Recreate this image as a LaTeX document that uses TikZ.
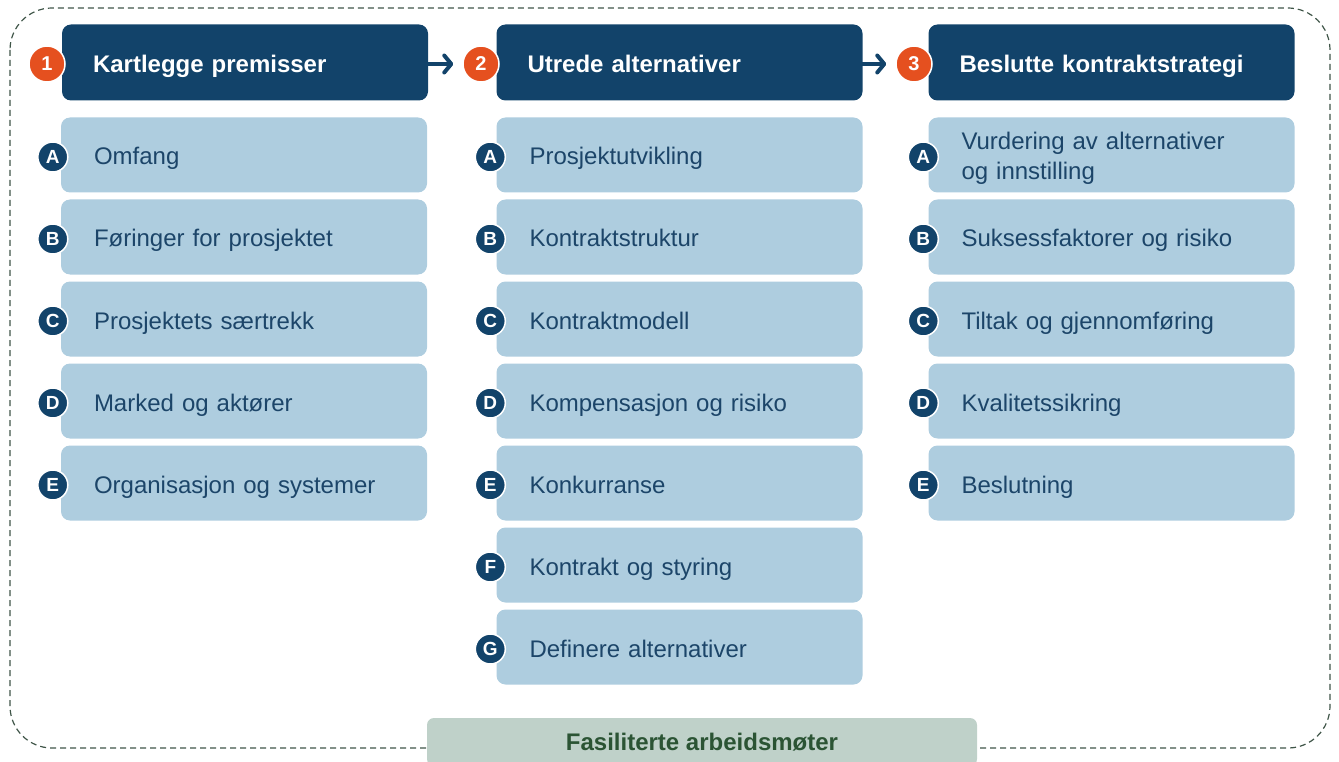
\documentclass[tikz,border=0pt]{standalone}
\usepackage{fontspec}
\setmainfont{Liberation Sans}
\usetikzlibrary{arrows.meta}

\definecolor{navy}{HTML}{12436A}
\definecolor{lightblue}{HTML}{AECDDF}
\definecolor{badgeorange}{HTML}{E5501F}
\definecolor{itemtext}{HTML}{1C4569}
\definecolor{framegreen}{HTML}{3F5548}
\definecolor{meetfill}{HTML}{BFD1C9}
\definecolor{meettext}{HTML}{2B5434}

\newcommand\topstrut{\rule{0pt}{25pt}}
\newcommand\botstrut{\rule[-5pt]{0pt}{5pt}}

\tikzset{
  phase/.style={fill=navy, rounded corners=9pt, minimum width=366pt,
    minimum height=76pt, text width=304pt, align=left, inner xsep=0pt,
    text=white, font=\fontsize{24}{29}\selectfont\bfseries,
    execute at begin node=\topstrut, execute at end node=\botstrut},
  item/.style={fill=lightblue, rounded corners=9pt, minimum width=366pt,
    minimum height=75pt, text width=300pt, align=left, inner xsep=0pt,
    text=itemtext, font=\fontsize{24}{30}\selectfont,
    execute at begin node=\topstrut, execute at end node=\botstrut},
  badge/.style={circle, fill=badgeorange, draw=white, line width=1.5pt,
    minimum size=36pt, inner sep=0pt, text=white,
    font=\fontsize{20}{20}\selectfont\bfseries},
  letter/.style={circle, fill=navy, draw=white, line width=1.5pt,
    minimum size=30pt, inner sep=0pt, text=white,
    font=\fontsize{19}{19}\selectfont\bfseries},
  flow/.style={navy, line width=4pt, line cap=round,
    -{Straight Barb[round, length=7pt, width=17pt]}, shorten >=9pt},
  meeting/.style={fill=meetfill, rounded corners=7pt, minimum width=550pt,
    minimum height=48pt, text=meettext,
    font=\fontsize{24}{29}\selectfont\bfseries}
}

\begin{document}
\begin{tikzpicture}[x=1pt, y=-1pt]
  \useasboundingbox (0,0) rectangle (1339,762);

  % frame round the whole process
  \draw[framegreen, line width=1.2pt, dash pattern=on 6pt off 4pt,
    rounded corners=42pt] (10,8) rectangle (1330,748);

  % phases
  \node[phase] (ph1) at (245,62.5) {Kartlegge premisser};
  \node[phase] (ph2) at (679.5,62.5) {Utrede alternativer};
  \node[phase] (ph3) at (1111.5,62.5) {Beslutte kontraktstrategi};
  \node[badge] (b1) at (47,64) {1};
  \node[badge] (b2) at (481,64) {2};
  \node[badge] (b3) at (914,64) {3};
  \draw[flow] (ph1.east |- b1) -- (b2.west);
  \draw[flow] (ph2.east |- b2) -- (b3.west);

  % items of phase 1
  \foreach \t [count=\i] in {Omfang, Føringer for prosjektet,
      Prosjektets særtrekk, Marked og aktører, Organisasjon og systemer} {
    \node[item] (a\i) at (244,{155+82*(\i-1)}) {\t};
  }
  % items of phase 2
  \foreach \t [count=\i] in {Prosjektutvikling, Kontraktstruktur,
      Kontraktmodell, Kompensasjon og risiko, Konkurranse,
      Kontrakt og styring, Definere alternativer} {
    \node[item] (c\i) at (679.5,{155+82*(\i-1)}) {\t};
  }
  % items of phase 3
  \foreach \t [count=\i] in {{Vurdering av alternativer\\og innstilling},
      Suksessfaktorer og risiko, Tiltak og gjennomføring,
      Kvalitetssikring, Beslutning} {
    \node[item] (e\i) at (1111.5,{155+82*(\i-1)}) {\t};
  }

  % letters
  \foreach \l [count=\i] in {A,B,C,D,E} {
    \node[letter] (la\i) at ([xshift=-8pt,yshift=-2pt]a\i.west) {\l};
    \node[letter] (le\i) at ([xshift=-5pt,yshift=-2pt]e\i.west) {\l};
  }
  \foreach \l [count=\i] in {A,B,C,D,E,F,G} {
    \node[letter] (lc\i) at ([xshift=-6pt,yshift=-2pt]c\i.west) {\l};
  }

  \node[meeting] (meet) at (702,742) {Fasiliterte arbeidsmøter};
\end{tikzpicture}
\end{document}
